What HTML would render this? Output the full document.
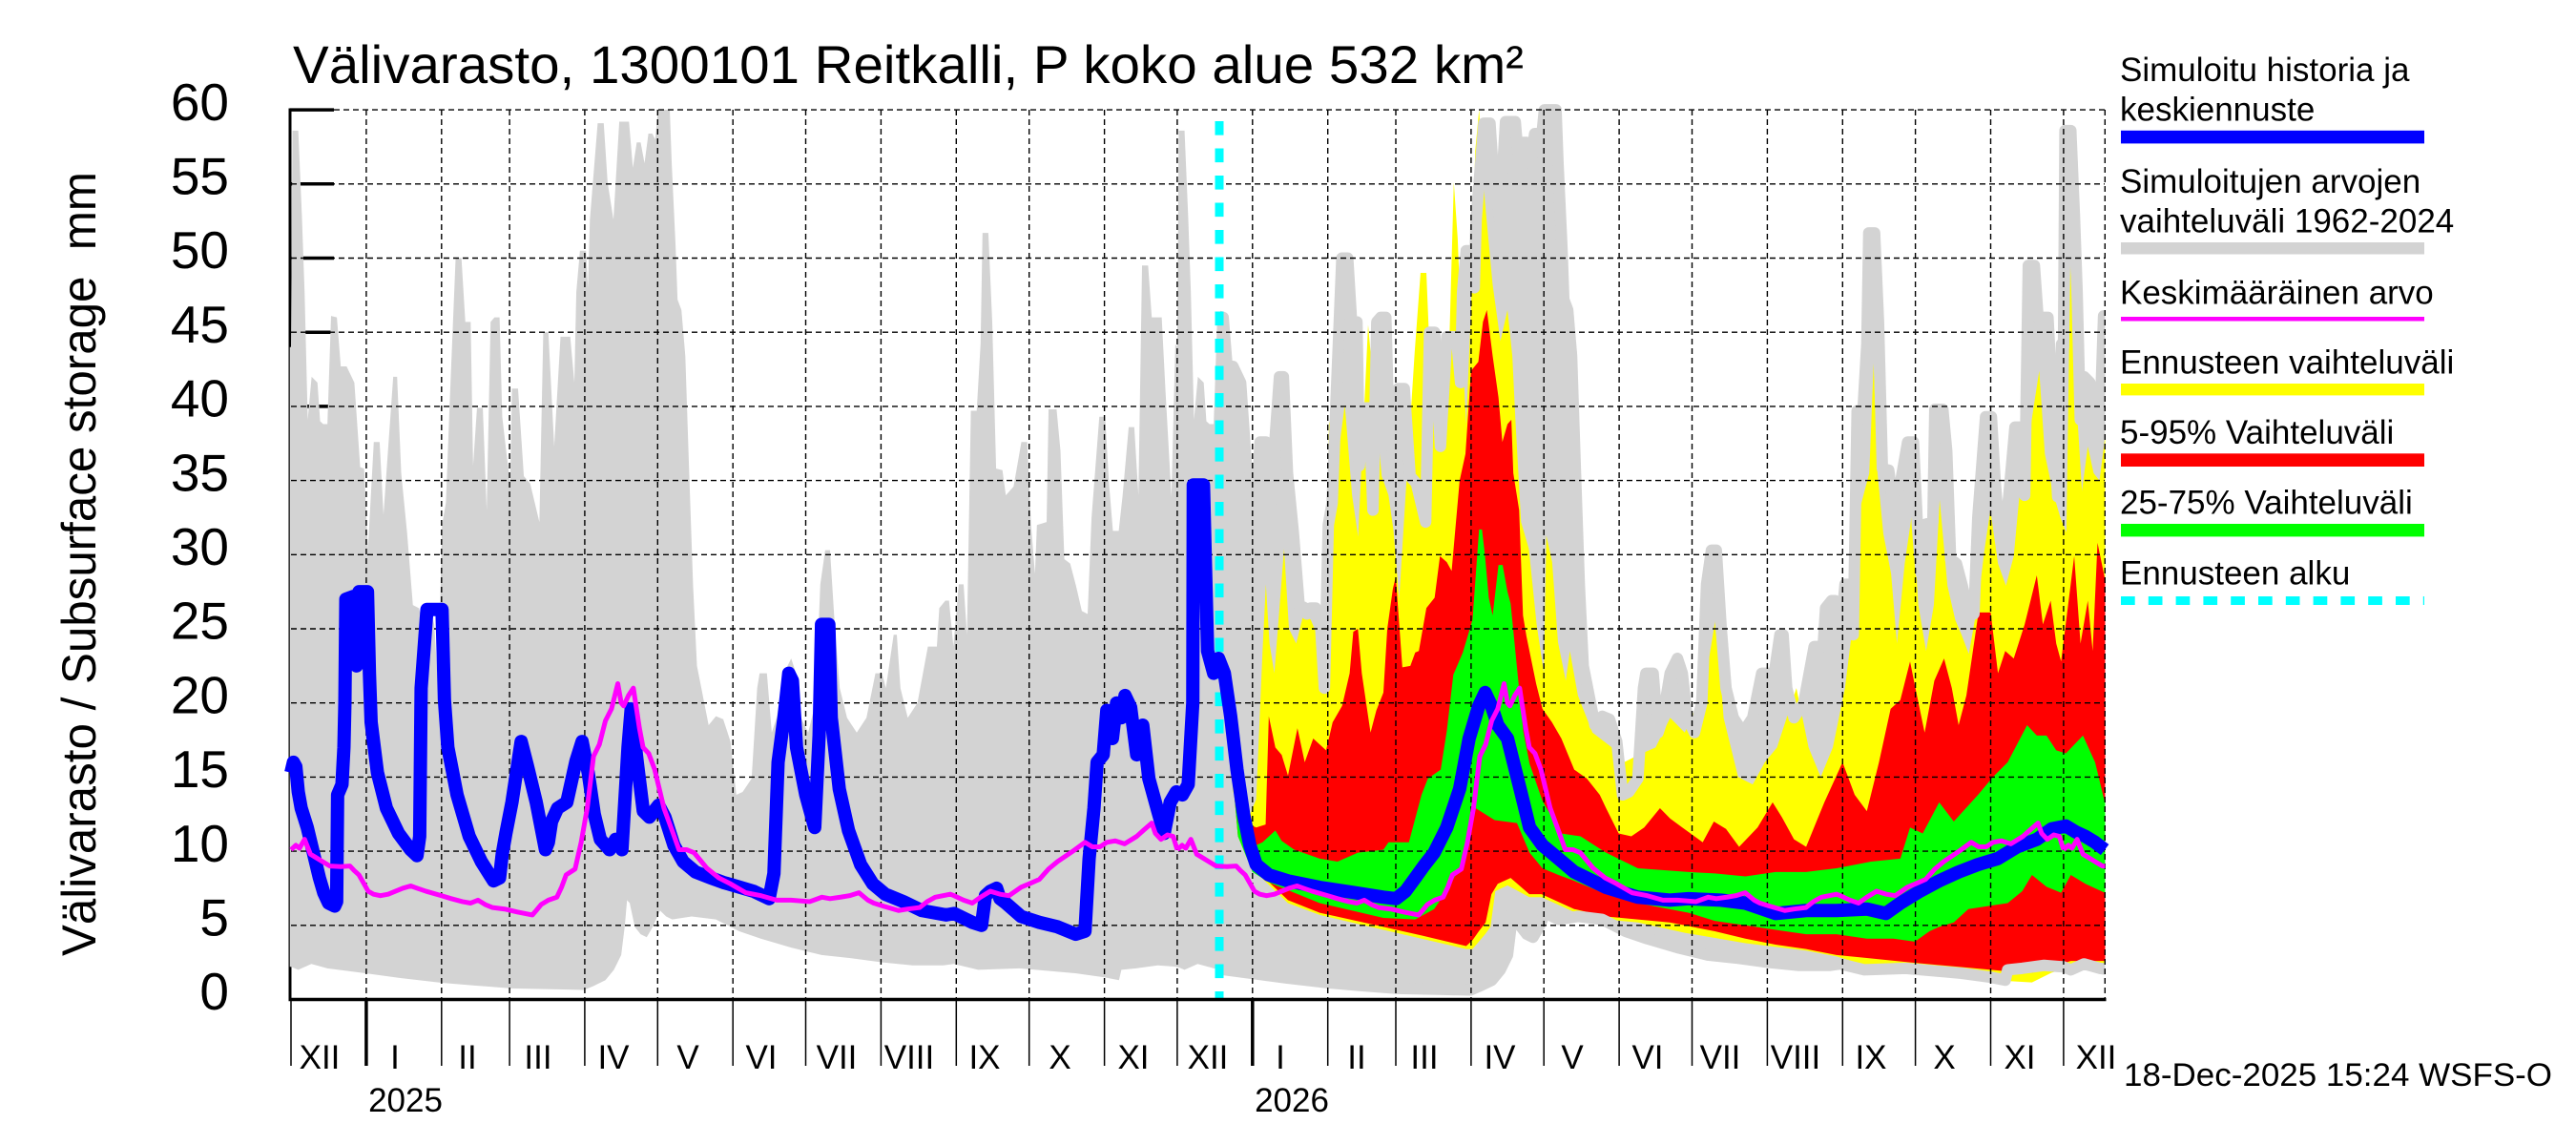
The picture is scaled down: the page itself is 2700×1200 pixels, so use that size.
<!DOCTYPE html>
<html><head><meta charset="utf-8"><style>
html,body{margin:0;padding:0;background:#fff;}
svg{display:block;}
text{font-family:"Liberation Sans",Arial,sans-serif;fill:#000;}
</style></head><body>
<svg xmlns="http://www.w3.org/2000/svg" xmlns:xlink="http://www.w3.org/1999/xlink" width="2700" height="1200" viewBox="0 0 2700 1200">
<rect x="0" y="0" width="2700" height="1200" fill="#fff"/>
<defs>
<clipPath id="cp"><rect x="302" y="100" width="1904.5" height="947.5"/></clipPath>
<clipPath id="cf"><rect x="1279" y="100" width="927.5" height="947.5"/></clipPath>
<path id="gp" d="M-0.5,2.2 L-0.5,44 0,44 0.6,58.6 3,58.6 4.5,52.8 5.6,47.7 6.9,39.1 8.5,42 10.9,41.6 12,39 13.3,38.8 15,38.8 16.5,46.1 18.9,46 20.5,42.7 22.9,42.7 26.1,41.6 28.5,35.9 30.1,35.8 31.7,30.4 34.1,37.6 36.5,37.6 38.1,32.7 40.5,38.3 42.1,42 43.7,42 45.4,35.5 47.8,31.5 50.2,26.6 52.6,26.4 53.4,26 55,26.4 57,26.4 59,25.3 60.6,21 62.2,32 63.8,33.5 65.4,40.4 67.8,50 70.2,50 71.8,45.7 74,45.7 75,36 76.6,39.9 79,39.9 80.6,33 82.2,45.7 83.8,46 85.9,46 87,39.3 88.7,36.9 90.3,34.8 91,41.2 93.5,41.2 95.9,35.3 98.5,34.8 102.3,32.2 103.9,45 106,45 108.4,37.3 111,44.7 115,44.7 116.7,41.6 117.5,47.7 119,50.5 121.5,50.5 122.3,48 123.1,52.6 126.3,59.1 128.8,59.1 130.4,55.1 132.8,52.6 135.2,59.2 139.2,59.2 140.8,56.1 142.4,57.8 144,57.8 145.6,56.4 147.2,58.4 148.8,58.4 150,58 151.2,60 156,60 156.8,56.4 158.4,50.8 159.2,47.2 160.8,46.5 162.4,43.4 164,35.5 165.6,27.9 167.2,22.5 169,21 172,18.5 175,19.1 178,18.9 181,17.4 183.4,13.8 186,14 189.7,14.9 192,21 193,22 196,22 198,18 200,19 203,22 206,23 208,22 210,19 213,18 216,20 218,28 220,30.3 222,30.3 224,25.1 226,21 229,19 233,18 237,19 240.7,22 243.4,22 245,21 248.2,24.6 249.5,24.6 251,21 254,19 258,20 262.3,23.8 266,23.8 267,26.4 269.5,26.9 271,26.9 272.8,23.8 275,28 277,28 278.4,24.6 280,39.7 282.4,39.7 284,44.2 284.8,51.7 287.2,51.7 288.8,45.7 290.4,35.8 293,35.7 294.4,34 297.6,34.6 300.8,37.6 303.2,37.6 304.8,32 306.4,28.7 307.2,32 311.2,32.2 312,39.8 315.3,39.8 316.9,37 318.5,29.7 320.9,29.4 323.3,27.9 325.7,26.2 328.1,26 329.7,32.5 332.9,39.3 335.3,39.3 336.9,34.8 338.5,31.6 340.9,31.6 342.5,34 345,38.6 347.3,38.6 349,34 350.5,49.5 353,49.5 354.5,46 358.6,46 360.2,40.9 362.6,33.9 364.2,44.2 365,44 365.5,44 365.5,2.2 365,2.2 357,2.3 348,2.1 342,2.0 341,1.3 335,1.5 323,1.77 300,2.1 283,2.0 273,2.4 268.6,2.3 256,2.3 243.6,2.5 230,2.8 218.5,3.0 206,3.5 193.5,4.1 184.6,4.6 175,5.4 165,5.6 157,5.4 154.5,5.6 152,6.0 149,4.9 146.5,4.2 144,4.4 141.6,4.9 139.5,6.5 138.4,6.7 137.5,5 136,3.0 133,2.0 129.5,1.3 124.5,0.9 120.7,0.64 110,0.68 90.8,0.75 75,0.95 62,1.13 45,1.45 30.6,1.77 15,2.1 8.4,2.4 3,2.0 0,2.2 Z"/>
<path id="gt" vector-effect="non-scaling-stroke" fill="none" d="M-0.5,44 L0,44 0.6,58.6 3,58.6 4.5,52.8 5.6,47.7 6.9,39.1 8.5,42 10.9,41.6 12,39 13.3,38.8 15,38.8 16.5,46.1 18.9,46 20.5,42.7 22.9,42.7 26.1,41.6 28.5,35.9 30.1,35.8 31.7,30.4 34.1,37.6 36.5,37.6 38.1,32.7 40.5,38.3 42.1,42 43.7,42 45.4,35.5 47.8,31.5 50.2,26.6 52.6,26.4 53.4,26 55,26.4 57,26.4 59,25.3 60.6,21 62.2,32 63.8,33.5 65.4,40.4 67.8,50 70.2,50 71.8,45.7 74,45.7 75,36 76.6,39.9 79,39.9 80.6,33 82.2,45.7 83.8,46 85.9,46 87,39.3 88.7,36.9 90.3,34.8 91,41.2 93.5,41.2 95.9,35.3 98.5,34.8 102.3,32.2 103.9,45 106,45 108.4,37.3 111,44.7 115,44.7 116.7,41.6 117.5,47.7 119,50.5 121.5,50.5 122.3,48 123.1,52.6 126.3,59.1 128.8,59.1 130.4,55.1 132.8,52.6 135.2,59.2 139.2,59.2 140.8,56.1 142.4,57.8 144,57.8 145.6,56.4 147.2,58.4 148.8,58.4 150,58 151.2,60 156,60 156.8,56.4 158.4,50.8 159.2,47.2 160.8,46.5 162.4,43.4 164,35.5 165.6,27.9 167.2,22.5 169,21 172,18.5 175,19.1 178,18.9 181,17.4 183.4,13.8 186,14 189.7,14.9 192,21 193,22 196,22 198,18 200,19 203,22 206,23 208,22 210,19 213,18 216,20 218,28 220,30.3 222,30.3 224,25.1 226,21 229,19 233,18 237,19 240.7,22 243.4,22 245,21 248.2,24.6 249.5,24.6 251,21 254,19 258,20 262.3,23.8 266,23.8 267,26.4 269.5,26.9 271,26.9 272.8,23.8 275,28 277,28 278.4,24.6 280,39.7 282.4,39.7 284,44.2 284.8,51.7 287.2,51.7 288.8,45.7 290.4,35.8 293,35.7 294.4,34 297.6,34.6 300.8,37.6 303.2,37.6 304.8,32 306.4,28.7 307.2,32 311.2,32.2 312,39.8 315.3,39.8 316.9,37 318.5,29.7 320.9,29.4 323.3,27.9 325.7,26.2 328.1,26 329.7,32.5 332.9,39.3 335.3,39.3 336.9,34.8 338.5,31.6 340.9,31.6 342.5,34 345,38.6 347.3,38.6 349,34 350.5,49.5 353,49.5 354.5,46 358.6,46 360.2,40.9 362.6,33.9 364.2,44.2 365,44 365.5,44"/>
<path id="gb" vector-effect="non-scaling-stroke" fill="none" d="M-0.5,2.2 L0,2.2 3,2.0 8.4,2.4 15,2.1 30.6,1.77 45,1.45 62,1.13 75,0.95 90.8,0.75 110,0.68 120.7,0.64 124.5,0.9 129.5,1.3 133,2.0 136,3.0 137.5,5 138.4,6.7 139.5,6.5 141.6,4.9 144,4.4 146.5,4.2 149,4.9 152,6.0 154.5,5.6 157,5.4 165,5.6 175,5.4 184.6,4.6 193.5,4.1 206,3.5 218.5,3.0 230,2.8 243.6,2.5 256,2.3 268.6,2.3 273,2.4 283,2.0 300,2.1 323,1.77 335,1.5 341,1.3 342,2.0 348,2.1 357,2.3 365,2.2 365.5,2.2"/>
<path id="mg" vector-effect="non-scaling-stroke" fill="none" d="M0,10.1 L2,10.4 3.5,10.2 5.6,10.8 8,9.8 10,9.6 13,9.3 16,9.0 20.5,8.96 24.3,9.0 26,8.7 28,8.4 31.8,7.3 34,7.1 36.8,7.0 40,7.1 43,7.3 46,7.5 49.3,7.66 52,7.5 55.6,7.3 62,7.0 66,6.8 70.6,6.6 74,6.5 77,6.7 80,6.4 83,6.2 88,6.1 93.2,5.9 99.4,5.7 101,6.0 103,6.4 106,6.7 109.5,6.9 111.5,7.6 113.3,8.4 117,8.8 119.5,10.6 122,12.9 124.6,16.4 127,17.2 129.5,18.8 132,19.6 134.6,21.3 136,20 137,19.8 139,20.5 141,21 143.5,18.3 145,17 147.3,16.6 149.8,15.5 153.6,12.9 157.4,11.2 159.8,10.1 163,10.1 166,9.9 171.3,8.85 176.2,8.2 181,7.8 187.3,7.2 193.6,7.0 200,6.7 206,6.7 213.6,6.6 218.7,6.9 222,6.8 226.3,6.9 230,7.0 233.9,7.2 237.6,6.7 240,6.5 243.9,6.3 250.2,6.0 254,6.1 258.9,6.2 262,6.6 265.3,6.9 271.5,7.1 273.1,7.0 277,6.7 280.6,6.5 284,6.9 288,7.3 292,7.1 295.7,7.0 300.7,7.57 304,7.8 308.2,8.1 312,8.8 315.7,9.3 322,10 327,10.6 330,10.3 333.2,10.3 336,10.6 339.5,10.7 343.3,10.5 348.3,11.0 351,11.4 354.5,11.9 356,11.2 358.3,10.8 361,11.1 363.3,11.0 365,10.1"/>
</defs>

<g stroke="#000" stroke-width="3.5">
<line x1="304" y1="115.1" x2="350" y2="115.1"/>
<line x1="304" y1="192.8" x2="350" y2="192.8"/>
<line x1="304" y1="270.5" x2="350" y2="270.5"/>
<line x1="304" y1="348.2" x2="350" y2="348.2"/>
<line x1="304" y1="425.9" x2="350" y2="425.9"/>
<line x1="304" y1="503.6" x2="350" y2="503.6"/>
<line x1="304" y1="581.3" x2="350" y2="581.3"/>
<line x1="304" y1="659" x2="350" y2="659"/>
<line x1="304" y1="736.7" x2="350" y2="736.7"/>
<line x1="304" y1="814.4" x2="350" y2="814.4"/>
<line x1="304" y1="892.1" x2="350" y2="892.1"/>
<line x1="304" y1="969.8" x2="350" y2="969.8"/>
</g>
<line x1="304" y1="113.5" x2="304" y2="1049" stroke="#000" stroke-width="3"/>

<g clip-path="url(#cp)">
<g transform="matrix(2.545 0 0 -15.54 305 1047.5)">
<use xlink:href="#gp" href="#gp" fill="#d3d3d3"/>
<use xlink:href="#gp" href="#gp" fill="#d3d3d3" transform="translate(365,0)"/>
<use xlink:href="#gp" href="#gp" fill="#d3d3d3" transform="translate(730,0)"/>

<path fill="#ffff00" d="M383,24 L388,14 391,13 395,12.5 397.5,13.5 400.1,23.4 401.5,28 403,24 405,22 409,30.4 411,25 414,24 417,26 420,25.6 424,24 426,25 427.5,39 430.7,36 434,40.1 437,34 439.5,31.2 443.6,45.5 446,41.1 449.2,35.3 452,34 454,31.7 456.4,27 459.6,35.5 462.8,43.7 465.2,49 467.6,49 469.2,42.6 471.6,38.8 474,41 476.4,40.5 478.9,55.1 480.5,51.3 482,45 484,38.8 486,46.6 487.7,57.2 489.3,60 491.7,53.8 494.9,48.2 498.1,44.4 501,46.5 503,43.4 504.2,39.3 506.6,32.2 509.8,30.4 513,25.3 516,22 517,31.3 519.4,29.5 521.8,24.1 525,21.5 526.7,23.5 530,20.5 536,18 544,17 549,16 555,16.5 562,17 568,19 574,18 582,21 587,26 590,19 596,15 602,14.5 607,16 612,17 616,19 620,21 625,17 630,15 635,17 640,21 643,25 646,33 650,35.5 651.8,42.9 653.4,35.5 655.8,31.4 659,28.7 661.4,24 664.6,29.4 667.8,33 670.2,26.6 673.4,23.5 676.6,26.6 679,33.7 682.2,27.9 685.4,25.6 688,24.6 691,23.3 695,27 697.5,30.4 699.9,33 703,29.4 706.3,27.9 709.5,29.9 712.7,35.5 716,38.1 718.3,40.6 720,42.4 722.3,36.8 725.5,34.3 728.7,32.5 731.2,31.5 732.8,49.5 735.2,40.6 737.6,34.3 740,37.3 742.4,35.5 744.8,35 747,37.8 749,37.8 749,2.4 747,2.4 733,2.2 725,1.8 717,1.15 707,1.25 686.8,1.45 666.8,1.8 646.7,2.4 636.5,2.9 624,3.3 599,3.8 574,4.5 554.7,5.2 541.6,5.4 528.5,5.9 515,6.9 510,6.9 501,7.7 496,7.3 494,4.9 491.8,4.4 486.6,3.4 484,3.4 449.9,4.7 423.7,5.7 410.6,6.5 401,8 395,9 390,11 383,24 Z"/>

<path fill="#ff0000" d="M383,24 L388,15 392,12 397.5,11.6 401.4,11.8 402.7,19.1 405.4,17 408,16.5 410.6,15.1 414.5,18.3 417.5,16 421,17.6 426.3,16.8 429,18.7 432.9,19.8 436,22 437.5,24.8 439.4,25 441,22 444.6,18 447,19.5 449.9,20.7 451.5,25 453.8,27.7 455,28.5 457.7,22.4 461,22.5 463,23.4 464.5,23.5 467.6,26.4 471,27.1 473.2,29.9 476,29.5 478,28.9 481.3,35 483.7,36.8 486,42.4 489,43 490.9,45.7 492.5,46.5 494.9,43.4 497.3,40.6 498.9,37.6 501,38.8 502.6,39.1 503.4,35.5 505.8,33 507.4,25.9 508.8,24.5 512.8,21.3 515.4,19.6 519.3,18.7 523.2,17.6 528.5,15.5 533.7,14.9 539,13.8 541.6,12.9 546.8,11.2 552,11 557.3,11.6 563.8,12.9 568,12.2 573,11.6 581.4,10.6 586,12 591,11.5 596.4,10.3 604,11.6 610.2,13.3 614,12.3 619,10.8 624,10.3 631.5,13.3 639,16 644,13.8 649,12.7 654,16 658.8,19.6 662.8,20.2 666.8,22.8 669,21 672.8,18 676.8,21.5 680.8,23 684,21 686.8,18.5 690,20.5 695,26.1 700,26.1 703,22 706,23.5 709.5,23 714,25.3 719,28.6 721.5,25.3 724.7,26.9 727,24 729,22.8 734.4,29.9 737,24 740,26.9 742,23.5 744,30.8 747,28.4 749,28.4 749,2.6 747,2.6 733,2.6 725,2.2 717,1.8 707,1.9 686.8,2.2 666.8,2.5 649,2.8 636.5,3.0 624,3.4 611.4,3.7 599,4.1 586.4,4.6 574,5.0 567.8,5.2 554.7,5.4 541.6,5.6 528.5,6.1 515,7.1 510,7.1 502.3,8.2 497,7.8 494.4,7.1 492,5.2 489.2,4.6 486.6,4.0 484,3.6 466,4.3 449.9,4.9 423.7,5.85 410.6,6.7 401,8.2 395,9.2 390,11 383,24 Z"/>

<path fill="#00ff00" d="M383,24 L390,12 396,10.3 400.1,10.6 405.4,11.4 408,10.7 413.2,10.1 423.7,9.5 431,9.3 439.4,9.9 449.9,10.1 452,10.6 460.4,10.6 465.6,13.8 468.2,14.9 473.5,15.5 476,18.1 478.7,21.9 482.6,23.4 486.6,25.6 489.3,31.7 490.5,31.7 491.7,30 493.3,27.1 494.9,25.9 497.3,29.3 499,29.3 501,27.5 502.3,26.7 504.9,22.4 507.5,18.1 510.1,15.9 515.4,13.4 523.2,11.2 531.1,11 541.6,9.9 554.7,8.85 575.6,8.6 586.4,8.5 599,8.3 611.4,8.6 624,8.6 636.5,8.85 650.7,9.3 662.8,9.5 666.8,11.6 672,11.2 678.8,13.3 684.8,12 694.8,13.8 700.9,15 707,16 715,18.5 719,17.8 723,17.8 727,16.8 731,16.6 738,17.8 743,16 747,13.3 749,13.3 749,7.2 747,7.2 739,7.8 733,8.4 729,7.2 723,7.6 717,8.4 713,7.3 707,6.5 698.8,6.3 690.8,6.1 684.8,5.2 678.8,4.9 674.8,4.6 668.8,3.9 660,4.1 649,4.1 636.5,4.4 624,4.4 611.4,4.7 599,5.0 586.4,5.3 575.6,5.85 554.7,6.5 541.6,7.1 528.5,8.0 522,8.4 515.4,8.85 510.1,9.9 504.9,11.9 495.7,12.1 491.8,12.5 487.9,12.9 485.2,11.6 481.3,8.85 476,7.35 470.8,6.1 463,5.4 449.9,5.5 423.7,6.5 402.7,7.9 396,8.6 390,11 383,24 Z"/>
</g>
</g>

<g clip-path="url(#cf)">
<g transform="matrix(2.545 0 0 -15.54 305 1047.5)" stroke="#d3d3d3" stroke-width="12" fill="none" stroke-linejoin="round">
<use xlink:href="#gt" href="#gt" transform="translate(365,0)"/>
<use xlink:href="#gt" href="#gt" transform="translate(730,0)"/>
<use xlink:href="#gb" href="#gb" transform="translate(365,0)"/>
<use xlink:href="#gb" href="#gb" transform="translate(730,0)"/>
</g>
</g>

<g stroke="#000" stroke-width="1.4" stroke-dasharray="6,4" fill="none">
<line x1="350" y1="115.1" x2="2206" y2="115.1"/>
<line x1="305" y1="192.8" x2="2206" y2="192.8"/>
<line x1="305" y1="270.5" x2="2206" y2="270.5"/>
<line x1="305" y1="348.2" x2="2206" y2="348.2"/>
<line x1="305" y1="425.9" x2="2206" y2="425.9"/>
<line x1="305" y1="503.6" x2="2206" y2="503.6"/>
<line x1="305" y1="581.3" x2="2206" y2="581.3"/>
<line x1="305" y1="659" x2="2206" y2="659"/>
<line x1="305" y1="736.7" x2="2206" y2="736.7"/>
<line x1="305" y1="814.4" x2="2206" y2="814.4"/>
<line x1="305" y1="892.1" x2="2206" y2="892.1"/>
<line x1="305" y1="969.8" x2="2206" y2="969.8"/>
<line x1="383.9" y1="115" x2="383.9" y2="1046"/>
<line x1="462.8" y1="115" x2="462.8" y2="1046"/>
<line x1="534.1" y1="115" x2="534.1" y2="1046"/>
<line x1="612.9" y1="115" x2="612.9" y2="1046"/>
<line x1="689.3" y1="115" x2="689.3" y2="1046"/>
<line x1="768.2" y1="115" x2="768.2" y2="1046"/>
<line x1="844.5" y1="115" x2="844.5" y2="1046"/>
<line x1="923.4" y1="115" x2="923.4" y2="1046"/>
<line x1="1002.3" y1="115" x2="1002.3" y2="1046"/>
<line x1="1078.7" y1="115" x2="1078.7" y2="1046"/>
<line x1="1157.6" y1="115" x2="1157.6" y2="1046"/>
<line x1="1233.9" y1="115" x2="1233.9" y2="1046"/>
<line x1="1312.8" y1="115" x2="1312.8" y2="1046"/>
<line x1="1391.7" y1="115" x2="1391.7" y2="1046"/>
<line x1="1463" y1="115" x2="1463" y2="1046"/>
<line x1="1541.9" y1="115" x2="1541.9" y2="1046"/>
<line x1="1618.2" y1="115" x2="1618.2" y2="1046"/>
<line x1="1697.1" y1="115" x2="1697.1" y2="1046"/>
<line x1="1773.5" y1="115" x2="1773.5" y2="1046"/>
<line x1="1852.4" y1="115" x2="1852.4" y2="1046"/>
<line x1="1931.3" y1="115" x2="1931.3" y2="1046"/>
<line x1="2007.6" y1="115" x2="2007.6" y2="1046"/>
<line x1="2086.5" y1="115" x2="2086.5" y2="1046"/>
<line x1="2162.9" y1="115" x2="2162.9" y2="1046"/>
<line x1="2206.3" y1="115" x2="2206.3" y2="1046"/>
</g>

<line x1="1278" y1="127" x2="1278" y2="1046" stroke="#00ffff" stroke-width="9" stroke-dasharray="14.6,13.9"/>

<g transform="matrix(2.545 0 0 -15.54 305 1047.5)">
<path vector-effect="non-scaling-stroke" fill="none" stroke="#0000ff" stroke-width="14" stroke-linejoin="round" d="M0,15.3 L1,16 2,15.7 3,14 4.2,12.9 6.7,11.6 9.2,9.9 11.7,8.2 13.5,7.2 15.5,6.5 18,6.3 18.8,6.6 19.2,13.8 21,14.5 21.8,17 22.2,20 22.6,27 26,27.2 27,22.5 28,27.5 31.5,27.5 32.3,22 33,18.7 35.6,15.3 39.3,12.9 44.3,11.2 49.3,10.1 51.9,9.7 53,11 53.6,21 56,26.3 62.2,26.3 63.2,20.2 64.6,17 68.4,13.8 73.4,11 78.4,9.3 83.4,8.0 85.9,8.2 87,9.8 88.5,11.2 91,13.3 94.8,17.4 97.3,15.8 101,13.3 104.8,10.1 106,10.6 107.3,12 109.8,12.9 113.6,13.3 117.4,16.1 119.9,17.4 122.4,15.3 124.9,12.5 127.4,10.8 131.2,10.1 133.7,10.8 136.3,10.1 138.8,17 140.1,19.6 142.6,16 145.1,12.7 147.6,12.3 151.4,13.1 154,12.3 157.7,10.4 161.5,9.3 166.6,8.6 172.9,8.2 177.9,7.9 184.2,7.6 190.5,7.3 196.9,6.8 198.9,8.5 200.6,16 203.1,19.1 205,22 206.5,21.5 208.2,17 212,13.8 215.7,11.6 217.5,17.8 218.5,25.3 221.5,25.3 222.5,19 225.8,14.2 229.6,11.4 234.6,9.1 239.6,7.8 244.7,7.1 252.2,6.6 259.8,6.0 269.8,5.7 273.1,5.8 280.6,5.2 284.4,5.0 286,7 288,7.3 290.6,7.5 292,6.8 294.4,6.5 300.7,5.6 308.2,5.2 315.7,4.9 323.2,4.4 327,4.6 328.7,9.5 330.7,12.9 332,16 334.5,16.5 336,19.5 338.3,17.6 340,20 342,19 343.5,20.5 345.8,19.7 348.3,16.5 350.8,18.5 353.3,14.9 357,12.7 359.6,11.2 362.1,13.3 364.6,14 367.1,13.8 369.5,14.5 371.4,20 371.6,34.7 375.8,34.7 376.5,30 377.5,23.5 380,22 382,23 384.4,22 387,19.1 389.6,15.5 392.3,12.5 394.9,10.4 397.5,9.1 402.7,8.4 410.6,8.0 423.7,7.56 436.8,7.24 449.9,6.9 455.1,6.8 459,7.3 463,8.2 466.5,9 470.8,9.9 476,11.6 481.3,14.2 485.2,17.6 489.2,19.8 491.8,20.7 494.4,19.8 497,18.5 501,17.6 503.6,15.9 506.2,14.2 510.1,11.6 515.4,10.4 522,9.5 528.5,8.6 541.6,7.56 554.7,6.9 567.8,6.7 575.6,6.8 588.9,6.7 598.9,6.5 611.4,5.8 624,6.0 636.5,6.0 649,6.1 656.8,5.8 662.8,6.5 670.8,7.3 678.8,8.0 686.8,8.6 694.8,9.1 702.9,9.5 711,10.3 719,10.8 725,11.5 731,11.7 735,11.3 739,11 743,10.6 747,10.1"/>
</g>

<g clip-path="url(#cp)">
<g transform="matrix(2.545 0 0 -15.54 305 1047.5)" stroke="#ff00ff" stroke-width="5" fill="none" stroke-linejoin="round">
<use xlink:href="#mg" href="#mg"/>
<use xlink:href="#mg" href="#mg" transform="translate(365,0)"/>
<use xlink:href="#mg" href="#mg" transform="translate(730,0)"/>
</g>
</g>

<line x1="302.5" y1="1047.5" x2="2207.5" y2="1047.5" stroke="#000" stroke-width="3.5"/>
<g stroke="#000" stroke-width="1.5">
<line x1="305" y1="1047" x2="305" y2="1117"/>
<line x1="462.8" y1="1047" x2="462.8" y2="1117"/>
<line x1="534.1" y1="1047" x2="534.1" y2="1117"/>
<line x1="612.9" y1="1047" x2="612.9" y2="1117"/>
<line x1="689.3" y1="1047" x2="689.3" y2="1117"/>
<line x1="768.2" y1="1047" x2="768.2" y2="1117"/>
<line x1="844.5" y1="1047" x2="844.5" y2="1117"/>
<line x1="923.4" y1="1047" x2="923.4" y2="1117"/>
<line x1="1002.3" y1="1047" x2="1002.3" y2="1117"/>
<line x1="1078.7" y1="1047" x2="1078.7" y2="1117"/>
<line x1="1157.6" y1="1047" x2="1157.6" y2="1117"/>
<line x1="1233.9" y1="1047" x2="1233.9" y2="1117"/>
<line x1="1391.7" y1="1047" x2="1391.7" y2="1117"/>
<line x1="1463" y1="1047" x2="1463" y2="1117"/>
<line x1="1541.9" y1="1047" x2="1541.9" y2="1117"/>
<line x1="1618.2" y1="1047" x2="1618.2" y2="1117"/>
<line x1="1697.1" y1="1047" x2="1697.1" y2="1117"/>
<line x1="1773.5" y1="1047" x2="1773.5" y2="1117"/>
<line x1="1852.4" y1="1047" x2="1852.4" y2="1117"/>
<line x1="1931.3" y1="1047" x2="1931.3" y2="1117"/>
<line x1="2007.6" y1="1047" x2="2007.6" y2="1117"/>
<line x1="2086.5" y1="1047" x2="2086.5" y2="1117"/>
<line x1="2162.9" y1="1047" x2="2162.9" y2="1117"/>
</g>
<g stroke="#000" stroke-width="3.5">
<line x1="383.9" y1="1047" x2="383.9" y2="1117"/>
<line x1="1312.8" y1="1047" x2="1312.8" y2="1117"/>
</g>

<g font-size="35" text-anchor="middle">
<text x="335" y="1120">XII</text>
<text x="414" y="1120">I</text>
<text x="490" y="1120">II</text>
<text x="564" y="1120">III</text>
<text x="643" y="1120">IV</text>
<text x="721" y="1120">V</text>
<text x="798" y="1120">VI</text>
<text x="877" y="1120">VII</text>
<text x="953" y="1120">VIII</text>
<text x="1032" y="1120">IX</text>
<text x="1111" y="1120">X</text>
<text x="1188" y="1120">XI</text>
<text x="1266" y="1120">XII</text>
<text x="1342" y="1120">I</text>
<text x="1422" y="1120">II</text>
<text x="1493" y="1120">III</text>
<text x="1572" y="1120">IV</text>
<text x="1648" y="1120">V</text>
<text x="1727" y="1120">VI</text>
<text x="1803" y="1120">VII</text>
<text x="1882" y="1120">VIII</text>
<text x="1961" y="1120">IX</text>
<text x="2038" y="1120">X</text>
<text x="2117" y="1120">XI</text>
<text x="2197" y="1120">XII</text>
<text x="425" y="1165">2025</text>
<text x="1354" y="1165">2026</text>
</g>

<g font-size="55" text-anchor="end">
<text x="240" y="125.8">60</text>
<text x="240" y="203.5">55</text>
<text x="240" y="281.2">50</text>
<text x="240" y="358.9">45</text>
<text x="240" y="436.6">40</text>
<text x="240" y="514.3">35</text>
<text x="240" y="592">30</text>
<text x="240" y="669.7">25</text>
<text x="240" y="747.4">20</text>
<text x="240" y="825.1">15</text>
<text x="240" y="902.8">10</text>
<text x="240" y="980.5">5</text>
<text x="240" y="1058.2">0</text>
</g>

<text transform="translate(100,591) rotate(-90)" text-anchor="middle" font-size="50" textLength="822" lengthAdjust="spacingAndGlyphs" style="white-space:pre">Välivarasto / Subsurface storage  mm</text>

<text x="307" y="87" font-size="56" textLength="1290" lengthAdjust="spacingAndGlyphs">Välivarasto, 1300101 Reitkalli, P koko alue 532 km²</text>

<g font-size="35">
<text x="2222" y="85">Simuloitu historia ja</text>
<text x="2222" y="126.4">keskiennuste</text>
<text x="2222" y="201.8">Simuloitujen arvojen</text>
<text x="2222" y="243.3">vaihteluväli 1962-2024</text>
<text x="2222" y="318.3">Keskimääräinen arvo</text>
<text x="2222" y="391.6">Ennusteen vaihteluväli</text>
<text x="2222" y="465">5-95% Vaihteluväli</text>
<text x="2222" y="538.7">25-75% Vaihteluväli</text>
<text x="2222" y="612.5">Ennusteen alku</text>
</g>
<rect x="2223" y="136.8" width="318" height="13.6" fill="#0000ff"/>
<rect x="2223" y="254" width="318" height="12.5" fill="#d3d3d3"/>
<rect x="2223" y="332" width="318" height="4.5" fill="#ff00ff"/>
<rect x="2223" y="402" width="318" height="12.4" fill="#ffff00"/>
<rect x="2223" y="475.3" width="318" height="13.7" fill="#ff0000"/>
<rect x="2223" y="549" width="318" height="13.4" fill="#00ff00"/>
<line x1="2223" y1="629.5" x2="2541" y2="629.5" stroke="#00ffff" stroke-width="9" stroke-dasharray="14.7,14.1"/>

<text x="2226" y="1138" font-size="34" textLength="449" lengthAdjust="spacingAndGlyphs">18-Dec-2025 15:24 WSFS-O</text>
</svg>
</body></html>
